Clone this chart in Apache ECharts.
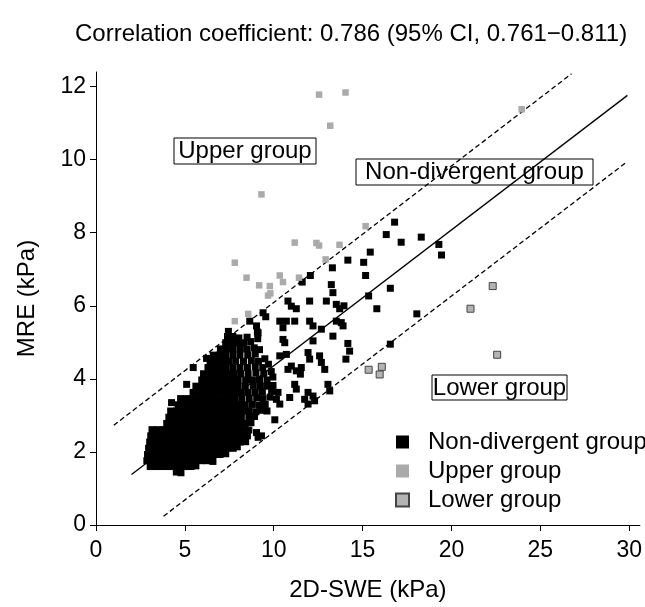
<!DOCTYPE html>
<html>
<head>
<meta charset="utf-8">
<script src="https://cdn.jsdelivr.net/npm/echarts@6/dist/echarts.min.js"></script>
<style>
html,body{margin:0;padding:0;background:#fff;}
#chart{width:645px;height:607px;}
</style>
</head>
<body>
<div id="chart"></div>
<script>
// ---------- data ----------
const titleText = 'Correlation coefficient: 0.786 (95% CI, 0.761\u22120.811)';
const xAxisName = '2D-SWE (kPa)';
const yAxisName = 'MRE (kPa)';
const xTicks = [0, 5, 10, 15, 20, 25, 30];
const yTicks = [0, 2, 4, 6, 8, 10, 12];
const seriesNames = ['Non-divergent group', 'Upper group', 'Lower group'];
const boxLabels = ['Upper group', 'Non-divergent group', 'Lower group'];

// regression line and limits (endpoints)
const regressionLine = [[2.0, 1.38], [29.9, 11.76]];
const upperLimit = [[1.0, 2.73], [26.75, 12.35]];
const lowerLimit = [[3.8, 0.24], [29.9, 9.95]];

// Non-divergent group: dense cluster (read row by row) + scattered points
const nonDivergentCluster = [
  [4.52,1.45],[4.78,1.43],
  [3.05,1.6],[3.38,1.6],[3.72,1.6],[4.05,1.6],[4.38,1.6],[4.7,1.6],[5.02,1.6],[5.35,1.6],[5.62,1.62],
  [2.86,1.76],[3.2,1.76],[3.54,1.76],[3.88,1.76],[4.22,1.76],[4.56,1.76],[4.9,1.76],[5.24,1.76],[5.58,1.76],[5.92,1.76],[6.26,1.76],[6.58,1.74],
  [2.9,1.93],[3.24,1.93],[3.58,1.93],[3.92,1.93],[4.26,1.93],[4.6,1.93],[4.94,1.93],[5.28,1.93],[5.62,1.93],[5.96,1.93],[6.3,1.93],[6.64,1.93],[6.98,1.93],[7.3,1.95],
  [2.96,2.1],[3.3,2.1],[3.64,2.1],[3.98,2.1],[4.32,2.1],[4.66,2.1],[5.0,2.1],[5.34,2.1],[5.68,2.1],[6.02,2.1],[6.36,2.1],[6.7,2.1],[7.04,2.1],[7.38,2.1],[7.72,2.1],[7.95,2.14],
  [3.02,2.27],[3.36,2.27],[3.7,2.27],[4.04,2.27],[4.38,2.27],[4.72,2.27],[5.06,2.27],[5.4,2.27],[5.74,2.27],[6.08,2.27],[6.42,2.27],[6.76,2.27],[7.1,2.27],[7.44,2.27],[7.78,2.27],[8.12,2.27],[8.42,2.28],
  [3.08,2.44],[3.42,2.44],[3.76,2.44],[4.1,2.44],[4.44,2.44],[4.78,2.44],[5.12,2.44],[5.46,2.44],[5.8,2.44],[6.14,2.44],[6.48,2.44],[6.82,2.44],[7.16,2.44],[7.5,2.44],[7.84,2.44],[8.18,2.44],[8.52,2.44],
  [3.15,2.61],[3.48,2.61],[3.82,2.61],[4.16,2.61],[4.5,2.61],[4.84,2.61],[5.18,2.61],[5.52,2.61],[5.86,2.61],[6.2,2.61],[6.54,2.61],[6.88,2.61],[7.22,2.61],[7.56,2.61],[7.9,2.61],[8.24,2.61],[8.6,2.6],
  [3.98,2.78],[4.3,2.78],[4.64,2.78],[4.98,2.78],[5.32,2.78],[5.66,2.78],[6.0,2.78],[6.34,2.78],[6.68,2.78],[7.02,2.78],[7.36,2.78],[7.7,2.78],[8.04,2.78],[8.38,2.78],[8.72,2.8],
  [4.1,2.95],[4.44,2.95],[4.78,2.95],[5.12,2.95],[5.46,2.95],[5.8,2.95],[6.14,2.95],[6.48,2.95],[6.82,2.95],[7.16,2.95],[7.5,2.95],[7.84,2.95],[8.18,2.95],[8.6,2.95],[8.92,2.97],
  [4.2,3.12],[4.54,3.12],[4.88,3.12],[5.22,3.12],[5.56,3.12],[5.9,3.12],[6.24,3.12],[6.58,3.12],[6.92,3.12],[7.26,3.12],[7.6,3.12],[7.94,3.12],[8.28,3.12],[8.62,3.12],[9.0,3.1],[9.3,3.14],[9.62,3.12],
  [4.62,3.29],[4.96,3.29],[5.3,3.29],[5.64,3.29],[5.98,3.29],[6.32,3.29],[6.66,3.29],[7.0,3.29],[7.34,3.29],[7.68,3.29],[8.02,3.29],[8.4,3.29],[8.8,3.3],[9.2,3.28],[9.52,3.3],
  [4.76,3.46],[5.1,3.46],[5.44,3.46],[5.78,3.46],[6.12,3.46],[6.46,3.46],[6.8,3.46],[7.14,3.46],[7.48,3.46],[7.82,3.46],[8.2,3.46],[8.62,3.46],[9.04,3.48],[9.4,3.46],[9.8,3.5],
  [5.46,3.63],[5.8,3.63],[6.14,3.63],[6.48,3.63],[6.82,3.63],[7.16,3.63],[7.5,3.63],[7.84,3.63],[8.18,3.63],[8.56,3.63],[8.96,3.63],[9.36,3.65],[9.88,3.66],
  [5.62,3.8],[5.96,3.8],[6.3,3.8],[6.64,3.8],[6.98,3.8],[7.32,3.8],[7.66,3.8],[8.0,3.8],[8.4,3.8],[8.84,3.82],[9.22,3.8],[9.6,3.8],[9.96,3.82],
  [5.95,3.97],[6.29,3.97],[6.63,3.97],[6.97,3.97],[7.31,3.97],[7.65,3.97],[8.0,3.97],[8.42,3.97],[8.8,3.97],[9.2,3.98],[9.62,3.97],[9.95,4.05],
  [6.05,4.14],[6.4,4.14],[6.74,4.14],[7.08,4.14],[7.42,4.14],[7.76,4.14],[8.14,4.14],[8.56,4.14],[9.0,4.16],[9.44,4.14],[9.86,4.2],
  [6.3,4.31],[6.64,4.31],[6.98,4.31],[7.32,4.31],[7.7,4.31],[8.1,4.31],[8.52,4.31],[8.96,4.33],[9.38,4.31],[9.7,4.4],
  [6.42,4.48],[6.78,4.48],[7.12,4.48],[7.48,4.48],[7.86,4.48],[8.3,4.48],[8.74,4.5],[9.14,4.48],[9.5,4.55],
  [6.6,4.65],[6.95,4.65],[7.3,4.65],[7.7,4.65],[8.1,4.65],[8.54,4.65],[8.96,4.68],[9.2,4.8],
  [7.0,4.82],[7.34,4.82],[7.72,4.82],[8.12,4.82],[8.5,4.82],[8.9,4.85],
  [7.3,4.99],[7.62,4.99],[7.96,4.99],[8.3,4.99],[8.7,5.02],[9.1,5.1],
  [7.4,5.16],[7.7,5.16],[8.04,5.12],[8.5,5.14],
  [7.45,5.3],[9.08,5.28]
];
const nonDivergentScattered = [
  [6.22,4.56],[5.47,4.31],[5.1,3.85],[4.25,3.35],[3.22,2.53],
  [9.03,2.53],[9.12,2.4],[9.31,2.44],[10.06,2.88],
  [10.24,3.63],[10.15,3.44],[10.34,3.31],[10.9,3.49],
  [11.18,3.85],[11.27,3.72],[11.93,3.63],[12.21,3.53],[12.3,3.4],[11.74,3.44],[11.93,3.31],
  [13.05,3.85],[13.15,3.67],
  [10.8,4.26],[10.99,4.35],[11.27,4.22],[11.55,4.31],[11.5,4.13],
  [12.58,4.63],[12.68,4.45],[12.87,4.26],
  [10.34,4.63],[10.71,4.67],[11.93,4.72],[12.02,4.54],
  [10.52,5.08],[10.62,4.99],[12.21,5.04],[13.33,5.17],
  [14.17,4.97],[14.27,4.76],[14.06,4.54],[16.56,4.95],
  [10.34,5.58],[10.71,5.58],[11.18,5.58],[10.52,5.4],[12.02,5.58],[12.21,5.45],[12.68,5.36],
  [13.52,5.58],[13.8,5.54],[13.9,5.45],
  [9.4,5.81],[9.55,5.7],[8.65,5.58],[9.03,5.45],[9.12,5.26],
  [10.8,6.13],[10.99,5.99],[11.27,5.92],[12.02,6.13],[12.96,6.13],[13.52,6.04],[13.71,5.92],[13.95,6.0],
  [11.6,6.65],[12.06,6.83],[13.24,6.58],[13.33,6.36],
  [13.3,7.04],[14.17,7.25],[15.06,7.19],[15.43,7.47],[15.17,6.83],[16.33,7.95],[16.8,8.29],[17.17,7.74],[18.3,7.88],[19.29,7.68],[19.44,7.39],
  [15.34,6.27],[16.56,6.48],[15.8,5.92],[18.05,5.78]
];
const upperGroup = [
  [12.55,11.78],[14.04,11.84],[13.18,10.93],[23.95,11.38],[9.31,9.05],[15.17,8.18],
  [11.18,7.73],[12.4,7.72],[12.55,7.65],[13.7,7.67],[12.92,7.27],[7.81,7.18],
  [8.47,6.77],[10.34,6.83],[10.52,6.65],[11.42,6.77],[9.18,6.56],[9.78,6.54],
  [9.81,6.34],[9.68,6.28],[8.56,5.78],[7.81,5.58]
];
const lowerGroup = [
  [22.32,6.54],[21.07,5.92],[22.57,4.66],[15.34,4.25],[16.08,4.33],[15.96,4.12]
];

// ---------- chart ----------
const FONT = '"Liberation Sans", Arial, Helvetica, sans-serif';
const chart = echarts.init(document.getElementById('chart'), null, {renderer: 'canvas'});

const axisCommon = {
  type: 'value',
  nameLocation: 'middle',
  nameTextStyle: {fontSize: 24, color: '#000', fontFamily: FONT},
  axisLine: {show: true, onZero: false, lineStyle: {color: '#000', width: 1}},
  splitLine: {show: false}
};

chart.setOption({
  animation: false,
  backgroundColor: '#fff',
  textStyle: {fontFamily: FONT, color: '#000'},
  title: {
    text: titleText,
    left: 75, top: 22, padding: 0,
    textStyle: {fontSize: 24, fontWeight: 'normal', color: '#000', fontFamily: FONT}
  },
  grid: {left: 96, right: 5, top: 72, bottom: 81},
  xAxis: Object.assign({}, axisCommon, {
    min: 0, max: 30.6,
    name: xAxisName, nameGap: 53,
    axisTick: {show: true, customValues: xTicks, length: 6, lineStyle: {color: '#000'}},
    axisLabel: {customValues: xTicks, fontSize: 23, color: '#000', margin: 14, fontFamily: FONT}
  }),
  yAxis: Object.assign({}, axisCommon, {
    min: 0, max: 12.4,
    name: yAxisName, nameGap: 57,
    axisTick: {show: true, customValues: yTicks, length: 6, lineStyle: {color: '#000'}},
    axisLabel: {customValues: yTicks, fontSize: 23, color: '#000', margin: 10, fontFamily: FONT}
  }),
  legend: {
    data: seriesNames,
    orient: 'vertical',
    left: 395, top: 430,
    padding: 0,
    itemGap: 5,
    itemWidth: 13, itemHeight: 13,
    icon: 'rect',
    textStyle: {fontSize: 24, color: '#000', fontFamily: FONT, padding: [0, 0, 0, 14]}
  },
  series: [
    {
      type: 'line', data: regressionLine, symbol: 'none', silent: true, z: 1,
      lineStyle: {color: '#000', width: 1.3, type: 'solid'}
    },
    {
      type: 'line', data: upperLimit, symbol: 'none', silent: true, z: 1,
      lineStyle: {color: '#000', width: 1.3, type: [5, 3]}
    },
    {
      type: 'line', data: lowerLimit, symbol: 'none', silent: true, z: 1,
      lineStyle: {color: '#000', width: 1.3, type: [5, 3]}
    },
    {
      name: seriesNames[0], type: 'scatter', symbol: 'rect', symbolSize: 7, z: 3,
      data: nonDivergentCluster.concat(nonDivergentScattered),
      itemStyle: {color: '#000', opacity: 1}
    },
    {
      name: seriesNames[1], type: 'scatter', symbol: 'rect', symbolSize: 6.5, z: 3,
      data: upperGroup,
      itemStyle: {color: '#aaaaaa', opacity: 1}
    },
    {
      name: seriesNames[2], type: 'scatter', symbol: 'rect', symbolSize: 7, z: 3,
      data: lowerGroup,
      itemStyle: {color: '#b3b3b3', borderColor: '#444', borderWidth: 1, opacity: 1}
    }
  ],
  graphic: [
    {type: 'rect', shape: {x: 174, y: 138, width: 142, height: 26}, style: {fill: 'none', stroke: '#000', lineWidth: 1}, z: 10},
    {type: 'text', x: 245, y: 151.5, style: {text: boxLabels[0], fontSize: 24, fontFamily: FONT, fill: '#000', align: 'center', verticalAlign: 'middle'}, z: 10},
    {type: 'rect', shape: {x: 356, y: 159, width: 237, height: 26}, style: {fill: 'none', stroke: '#000', lineWidth: 1}, z: 10},
    {type: 'text', x: 474.5, y: 172.5, style: {text: boxLabels[1], fontSize: 24, fontFamily: FONT, fill: '#000', align: 'center', verticalAlign: 'middle'}, z: 10},
    {type: 'rect', shape: {x: 432, y: 375, width: 135, height: 25}, style: {fill: 'none', stroke: '#000', lineWidth: 1}, z: 10},
    {type: 'text', x: 499.5, y: 388, style: {text: boxLabels[2], fontSize: 24, fontFamily: FONT, fill: '#000', align: 'center', verticalAlign: 'middle'}, z: 10}
  ]
});
</script>
</body>
</html>
